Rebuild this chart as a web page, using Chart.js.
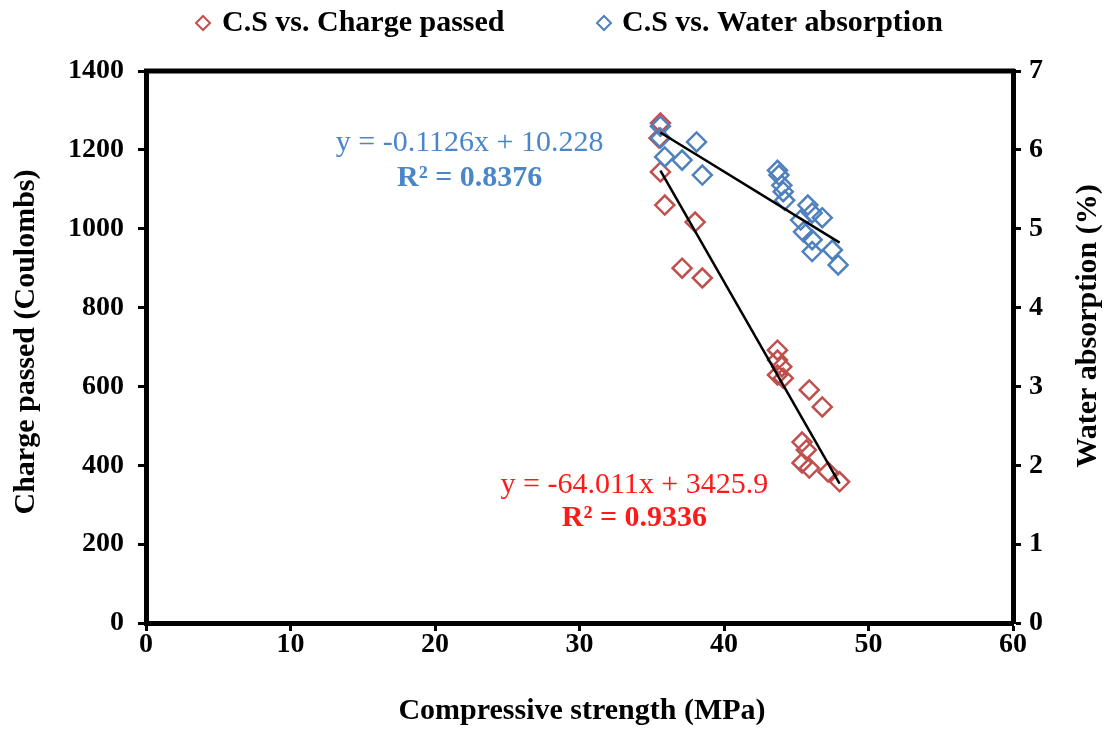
<!DOCTYPE html>
<html>
<head>
<meta charset="utf-8">
<script src="https://cdn.jsdelivr.net/npm/chart.js@4.4.1/dist/chart.umd.min.js"></script>
<style>
  html, body { margin: 0; padding: 0; background: #fff; }
  #wrap { width: 1107px; height: 729px; position: relative; }
</style>
</head>
<body>
<div id="wrap"><canvas id="chart"></canvas></div>
<script>
// Compressive strength (MPa) vs charge passed (Coulombs)
const chargeX = [35.6, 35.5, 35.6, 35.9, 38.0, 37.1, 38.5, 43.7, 43.7, 44.0, 43.7, 44.1, 45.9, 46.8, 45.4, 45.7, 45.4, 45.9, 47.2, 48.0];
const chargeY = [1268, 1230, 1144, 1060, 1017, 900, 875, 692, 667, 650, 629, 621, 591, 548, 459, 439, 406, 393, 383, 358];

// Compressive strength (MPa) vs water absorption (%)
const waterX = [35.6, 35.6, 38.1, 35.9, 37.1, 38.5, 43.7, 43.8, 44.0, 44.1, 44.2, 45.8, 46.1, 45.3, 46.8, 45.5, 46.1, 47.5, 46.1, 47.9];
const waterY = [6.30, 6.15, 6.10, 5.91, 5.87, 5.68, 5.74, 5.68, 5.55, 5.47, 5.36, 5.30, 5.20, 5.11, 5.14, 4.96, 4.86, 4.73, 4.71, 4.54];

// Linear trend lines, as printed on the chart
const chargeFit = { slope: -64.011, intercept: 3425.9, r2: '0.9336', from: 35.6, to: 48.0 };
const waterFit = { slope: -0.1126, intercept: 10.228, r2: '0.8376', from: 35.6, to: 48.0 };

const xTicks = [0, 10, 20, 30, 40, 50, 60];
const leftTicks = [0, 200, 400, 600, 800, 1000, 1200, 1400];
const rightTicks = [0, 1, 2, 3, 4, 5, 6, 7];

const RED = '#c0504d';
const BLUE = '#4f81bd';
const SERIF = '"Liberation Serif", "Times New Roman", serif';

const toPoints = (xs, ys) => xs.map((x, i) => ({ x: x, y: ys[i] }));
const fitLine = f => [f.from, f.to].map(x => ({ x: x, y: f.slope * x + f.intercept }));

function diamond(ctx, x, y, r, color, lw) {
    ctx.beginPath();
    ctx.moveTo(x, y - r);
    ctx.lineTo(x + r, y);
    ctx.lineTo(x, y + r);
    ctx.lineTo(x - r, y);
    ctx.closePath();
    ctx.strokeStyle = color;
    ctx.lineWidth = lw;
    ctx.stroke();
}

// Frame top line, legend, axis titles and equation labels
const decorations = {
    id: 'decorations',
    afterDraw(chart) {
        const { ctx, chartArea: a, scales } = chart;
        ctx.save();
        ctx.strokeStyle = '#000';
        ctx.lineWidth = 5;
        ctx.beginPath();
        ctx.moveTo(a.left - 2, a.top);
        ctx.lineTo(a.right + 2, a.top);
        ctx.stroke();

        // legend
        ctx.font = 'bold 30px ' + SERIF;
        ctx.textBaseline = 'middle';
        ctx.textAlign = 'left';
        ctx.fillStyle = '#000';
        diamond(ctx, 203, 23, 7, RED, 2);
        ctx.fillText('C.S vs. Charge passed', 222, 23);
        diamond(ctx, 604, 23, 7, BLUE, 2);
        ctx.fillText('C.S vs. Water absorption', 622, 23);

        // axis titles
        ctx.textAlign = 'center';
        ctx.save();
        ctx.translate(26, 342);
        ctx.rotate(-Math.PI / 2);
        ctx.fillText('Charge passed (Coulombs)', 0, 0);
        ctx.restore();
        ctx.save();
        ctx.translate(1088, 326);
        ctx.rotate(-Math.PI / 2);
        ctx.fillText('Water absorption (%)', 0, 0);
        ctx.restore();
        ctx.fillText('Compressive strength (MPa)', 582, 711);

        // equations
        const x = scales.x, yl = scales.y, yr = scales.y2;
        ctx.font = '30px ' + SERIF;
        ctx.fillStyle = '#4a86c8';
        ctx.fillText('y = ' + waterFit.slope + 'x + ' + waterFit.intercept, x.getPixelForValue(22.4), yr.getPixelForValue(6.09));
        ctx.font = 'bold 30px ' + SERIF;
        ctx.fillText('R² = ' + waterFit.r2, x.getPixelForValue(22.4), yr.getPixelForValue(5.64));
        ctx.font = '30px ' + SERIF;
        ctx.fillStyle = '#ff1a1a';
        ctx.fillText('y = ' + chargeFit.slope + 'x + ' + chargeFit.intercept, x.getPixelForValue(33.8), yl.getPixelForValue(350));
        ctx.font = 'bold 30px ' + SERIF;
        ctx.fillText('R² = ' + chargeFit.r2, x.getPixelForValue(33.8), yl.getPixelForValue(266));
        ctx.restore();
    }
};

const tickFont = { family: SERIF, size: 28, weight: 'bold' };
const plain = v => String(v);
const axisBorder = { display: true, color: '#000', width: 5 };
const axisGrid = { display: true, drawOnChartArea: false, drawTicks: true, tickLength: 8, tickWidth: 3, tickColor: '#000' };

new Chart(document.getElementById('chart'), {
    type: 'scatter',
    data: {
        datasets: [
            { label: 'charge fit', data: fitLine(chargeFit), type: 'line', yAxisID: 'y', borderColor: '#000', borderWidth: 2.5, pointRadius: 0, fill: false },
            { label: 'water fit', data: fitLine(waterFit), type: 'line', yAxisID: 'y2', borderColor: '#000', borderWidth: 2.5, pointRadius: 0, fill: false },
            { label: 'C.S vs. Water absorption', data: toPoints(waterX, waterY), yAxisID: 'y2', pointStyle: 'rectRot', pointRadius: 9.5, pointBorderWidth: 2.5, borderColor: BLUE, backgroundColor: 'rgba(0,0,0,0)' },
            { label: 'C.S vs. Charge passed', data: toPoints(chargeX, chargeY), yAxisID: 'y', pointStyle: 'rectRot', pointRadius: 9.5, pointBorderWidth: 2.5, borderColor: RED, backgroundColor: 'rgba(0,0,0,0)' }
        ]
    },
    options: {
        responsive: true,
        maintainAspectRatio: false,
        animation: false,
        layout: { padding: { top: 71, left: 0, right: 0, bottom: 0 } },
        plugins: { legend: { display: false }, tooltip: { enabled: false } },
        scales: {
            x: {
                type: 'linear', min: 0, max: 60,
                afterBuildTicks: s => { s.ticks = xTicks.map(v => ({ value: v })); },
                afterFit: s => { s.height = 729 - 623; },
                ticks: { font: tickFont, color: '#000', padding: -3, maxRotation: 0, callback: plain },
                border: axisBorder, grid: axisGrid
            },
            y: {
                type: 'linear', position: 'left', min: 0, max: 1400,
                afterBuildTicks: s => { s.ticks = leftTicks.map(v => ({ value: v })); },
                afterFit: s => { s.width = 146; },
                ticks: { font: tickFont, color: '#000', padding: 14, callback: plain },
                border: axisBorder, grid: axisGrid
            },
            y2: {
                type: 'linear', position: 'right', min: 0, max: 7,
                afterBuildTicks: s => { s.ticks = rightTicks.map(v => ({ value: v })); },
                afterFit: s => { s.width = 1107 - 1013; },
                ticks: { font: tickFont, color: '#000', padding: 8, callback: plain },
                border: axisBorder, grid: axisGrid
            }
        }
    },
    plugins: [decorations]
});
</script>
</body>
</html>
